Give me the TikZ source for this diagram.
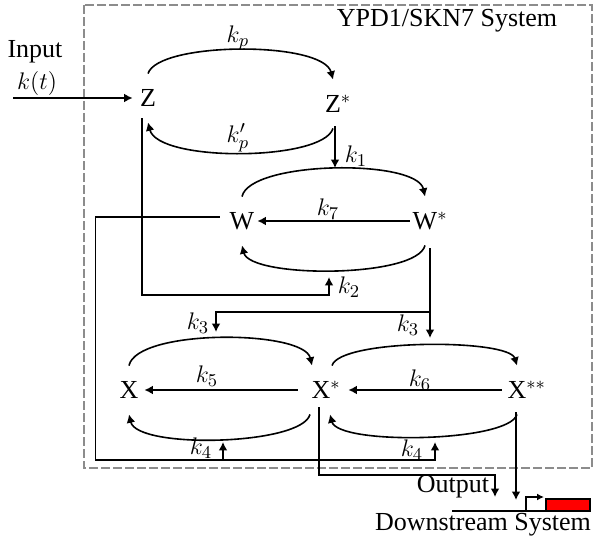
\documentclass[tikz,border=0pt]{standalone}
\usepackage{fontspec}
\setmainfont{Liberation Serif}
\usetikzlibrary{arrows.meta,calc}
\begin{document}
\begin{tikzpicture}[x=0.5pt,y=-0.5pt,
  every node/.style={font=\fontsize{13}{15}\selectfont},
  sp/.style={inner sep=0pt, minimum width=15pt, minimum height=24pt, font=\fontsize{13}{15}\selectfont},
  ar/.style={line width=0.8pt, -{Latex[length=4.2pt,width=4.4pt]}},
  ln/.style={line width=0.8pt},
  lab/.style={inner sep=0pt}]
\useasboundingbox (0,0) rectangle (594,540);
% system box
\draw[black!45, dash pattern=on 4.5pt off 1.5pt, line width=0.6pt] (84,5) rectangle (592,468);
\node[lab] (sys) at (447,21) {YPD1/SKN7 System};
% species
\node[sp] (Z) at (148,98) {Z};
\node[sp] (Zs) at (333,104) {Z\rlap{$^*$}};
\node[sp] (W) at (242,221) {W};
\node[sp] (Ws) at (425,221) {W\rlap{$^*$}};
\node[sp] (X) at (129,390) {X};
\node[sp] (Xs) at (321,390) {X\rlap{$^*$}};
\node[sp] (Xss) at (517,390) {X\rlap{$^{**}$}};
% input
\node[lab] (inp) at (35,52) {Input};
\node[lab] (kt) at (37,84) {$k(t)$};
\coordinate (ins) at (13,98);
\draw[ar] (ins) -- (Z.west);
% Z cycle
\draw[ar] (Z.north) .. controls +(10,-32) and +(-10,-39) .. (Zs.north);
\node[lab] (kp) at (238,38) {$k_p$};
\draw[ar] (Zs.south) .. controls +(-10,33) and +(10,40) .. (Z.south);
\node[lab] (kpp) at (238,138) {$k'_p$};
% k1
\coordinate (k1e) at (335,168);
\draw[ar] ($(Zs.south)+(2,-2)$) -- (k1e);
\node[lab] (k1) at (356,156) {$k_1$};
% W cycle
\draw[ar] (W.north) .. controls +(8,-36) and +(-8,-38) .. (Ws.north);
\draw[ar] (Ws.west) -- (W.east);
\node[lab] (k7) at (328,209) {$k_7$};
\draw[ar] (Ws.south) .. controls +(-8,33) and +(8,33) .. (W.south);
% k2
\coordinate (k2e) at (329,277);
\draw[ar] ($(Z.south)+(-6,-4)$) |- ($(k2e)+(0,18)$) -- (k2e);
\node[lab] (k2) at (349,287) {$k_2$};
% k3
\coordinate (k3r) at (430,338);
\coordinate (k3l) at (216,332);
\coordinate (br) at (430,312);
\draw[ar] ($(Ws.south)+(5,3)$) -- (k3r);
\draw[ar] (br) -| (k3l);
\node[lab] (k3a) at (198,323) {$k_3$};
\node[lab] (k3b) at (408,325) {$k_3$};
% X cycle
\draw[ar] (X.north) .. controls +(8,-37) and +(-8,-36) .. ($(Xs.north)+(-9,0)$);
\draw[ar] ($(Xs.west)+(-8,0)$) -- (X.east);
\node[lab] (k5) at (207,376) {$k_5$};
\draw[ar] ($(Xs.south)+(-11,0)$) .. controls +(-8,31) and +(8,35) .. (X.south);
\draw[ar] ($(Xs.north)+(11,0)$) .. controls +(8,-27) and +(-8,-27) .. (Xss.north);
\draw[ar] (Xss.west) -- ($(Xs.east)+(12,0)$);
\node[lab] (k6) at (420,380) {$k_6$};
\draw[ar] (Xss.south) .. controls +(-8,28) and +(8,31) .. ($(Xs.south)+(9,0)$);
% k4 feedback from W
\coordinate (k4r) at (435,442);
\coordinate (k4l) at (223,442);
\draw[ar] ($(W.west)+(-7,-4)$) -- ++(-124,0) |- ($(k4r)+(0,18)$) -- (k4r);
\draw[ar] ($(k4l)+(0,18)$) -- (k4l);
\node[lab] (k4a) at (201,448) {$k_4$};
\node[lab] (k4b) at (412,450) {$k_4$};
% output
\coordinate (oute) at (495,497);
\draw[ar] ($(Xs.south)+(-2,-7)$) |- ($(oute)+(0,-22)$) -- (oute);
\node[lab] (out) at (453,487) {Output};
\coordinate (dse) at (516,500);
\draw[ar] ($(Xss.south)+(-1,-2)$) -- (dse);
% downstream system
\coordinate (dl) at (452,511);
\coordinate (dr) at (590,511);
\coordinate (pb) at (526,511);
\coordinate (pt) at (544,497);
\draw[ln] (dl) -- (dr);
\draw[line width=0.8pt, -{Latex[length=3.5pt,width=3.5pt]}] (pb) |- (pt);
\draw[line width=0.6pt, fill=red] (546,499) rectangle (590,511);
\node[lab] (ds) at (483,525) {Downstream System};
\end{tikzpicture}
\end{document}
